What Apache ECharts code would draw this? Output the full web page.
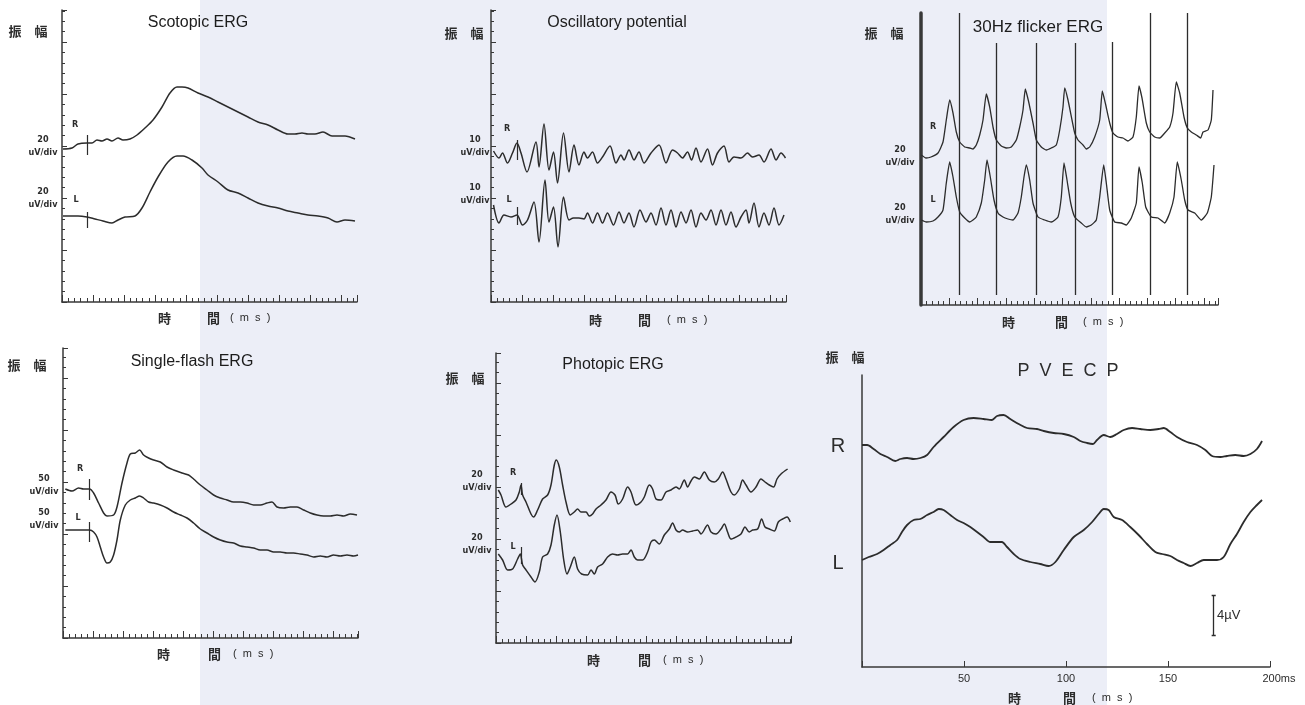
<!DOCTYPE html>
<html>
<head>
<meta charset="utf-8">
<title>ERG / PVECP</title>
<script src="https://cdn.jsdelivr.net/npm/echarts@6/dist/echarts.min.js"></script>
<style>
  html, body { margin: 0; padding: 0; background: #fff; }
  #chart {
    width: 1305px;
    height: 705px;
    background: linear-gradient(to right, #fff 0, #fff 200px, #eceef7 200px, #eceef7 1107px, #fff 1107px);
  }
</style>
</head>
<body>
<div id="chart"></div>
<script>
// ERG panels: x = time, y = amplitude, both in chart units (1 unit ~ 1 plotted px)
// PVECP: x in ms, y in uV

// Scotopic ERG
const scotopicR = [[1,153],[10,154],[16,158],[25,159],[30,159],[35,162],[40,161],[45,163],[50,161],[56,164],[61,162],[68,163],[75,167],[83,174],[91,182],[100,195],[108,209],[115,215],[120,215],[126,214],[136,209],[146,205],[156,200],[166,195],[176,190],[186,185],[196,180],[206,177],[216,172],[226,168],[233,168],[240,169],[246,168],[253,168],[261,170],[270,166],[276,166],[283,166],[293,163]];
const scotopicL = [[1,86],[16,86],[25,85],[33,83],[41,81],[50,79],[56,82],[63,85],[73,86],[80,94],[88,110],[96,125],[106,140],[115,146],[121,146],[130,142],[140,134],[146,127],[156,120],[166,112],[176,109],[186,104],[196,99],[206,96],[216,94],[226,91],[236,89],[246,87],[256,86],[266,84],[275,80],[283,82],[293,81]];
const scotopicStim = [[25,147,167],[25,74,90]];

// Oscillatory potential
const oscR = [[2.5,151],[8,144],[11.5,149],[16.5,139],[21.5,149],[26,159],[30,149],[36,130],[45,160],[48,135],[53,178],[58,132],[62.5,150],[66.5,119],[72.5,169],[78,130],[83,157],[88,137],[93,150],[96.5,144],[101.5,150],[106.5,139],[111.5,145],[119,156],[125,139],[130,147],[133,142],[138,152],[143,142],[148,150],[153,139],[160,149],[168,157],[175,139],[181.5,152],[186.5,149],[191.5,144],[196.5,150],[200.5,142],[205,154],[210,140],[216.5,153],[221.5,137],[226.5,149],[233,156],[238,140],[243,145],[250,144],[256.5,149],[261.5,145],[268,147],[273,140],[280,153],[285,142],[290,149],[294.5,144]];
const oscL = [[2.5,97],[8,79],[13,87],[20,85],[26,87],[31.5,77],[36.5,82],[43,100],[48,60],[54,122],[58,80],[62.5,95],[67,55],[72.5,105],[78,82],[82.5,84],[88,84],[93,83],[96.5,89],[101.5,79],[106.5,89],[111.5,79],[116.5,89],[122.5,77],[128,90],[133,79],[138,89],[143,75],[149,92],[155,80],[160,89],[165,77],[170,94],[175,77],[180,92],[185,75],[190,90],[195,79],[200,92],[205,75],[210,89],[215,82],[220,92],[225,77],[230,92],[235,77],[240,90],[245,75],[250,85],[255,92],[258,79],[263,99],[268,75],[273,89],[278,77],[283,94],[288,77],[293,87]];
const oscStim = [[26,142,162],[26,77,95]];

// 30Hz flicker ERG
const flickerR = [[0.3,150],[5,147],[10,148],[17,152],[22,163],[25.3,185],[28.7,205],[32,192],[35.3,173],[38.7,163],[43.7,158],[48.7,157],[52,156],[55.3,160],[58.7,170],[62,185],[65.3,211],[68.7,198],[72,178],[75.3,165],[80.3,159],[85.3,157],[90.3,158],[95.3,165],[98.7,178],[102,195],[104.3,216],[107.7,203],[112,182],[115.3,165],[120.3,158],[125.3,155],[130.3,157],[135.3,160],[138.7,175],[142,198],[143.7,217],[147,205],[151,185],[153.7,172],[157,165],[162,160],[165.3,156],[168.7,158],[173.7,168],[178.7,185],[181.3,214],[184.3,202],[188.7,182],[192,172],[197,168],[202,167],[207,164],[212,168],[215.3,188],[218,219],[221,207],[225.3,182],[228.7,173],[233.7,168],[238.7,167],[243.7,172],[248.7,178],[252,192],[255.3,223],[258.7,212],[263,188],[266.3,177],[270.3,173],[275.3,170],[279.7,167],[282,173],[287,175],[290.3,185],[292,215]];
const flickerL = [[0.3,85],[5.3,83],[12,84],[17,88],[22,95],[25.3,122],[28.7,143],[32,128],[35.3,108],[38.7,93],[43.7,87],[48.7,83],[52,85],[55.3,88],[60.3,102],[63.7,125],[66,145],[69.3,128],[73,105],[77,92],[82,88],[87,86],[92,85],[97,92],[100.3,108],[103,128],[105.3,140],[108.7,125],[112,102],[117,88],[123.7,85],[130.3,83],[137,88],[140.3,108],[143,142],[146,125],[149.7,102],[153.7,88],[160.3,82],[165.3,78],[170.3,80],[175.3,85],[178.7,108],[182.7,140],[185.3,122],[188.7,95],[193.7,83],[200.3,82],[205.3,80],[210.3,87],[215.3,102],[218,138],[221.3,122],[224.7,98],[230.3,88],[237,87],[243.7,82],[248.7,92],[253,108],[256.3,143],[260.3,125],[263.7,105],[267,95],[273.7,92],[280.3,85],[286.3,92],[290.3,108],[293,140]];
const flickerStim = [[38,10,292],[75.5,10,262],[115,10,262],[154,10,262],[191,10,263],[229,10,292],[266.5,10,292]];

// Single-flash ERG
const singleR = [[2.3,149],[9,147],[15.6,150],[20.6,149],[26.6,149],[30.6,145],[35.6,135],[40.6,125],[44,122],[50.6,123],[54,131],[59,155],[64,175],[67.3,184],[72.3,185],[76.6,188],[80.6,183],[85.6,180],[90.6,178],[97.3,176],[104,171],[110.6,168],[119,165],[125.6,163],[130.6,159],[137.3,153],[144,148],[150.6,143],[157.3,140],[164,138],[170.6,136],[177.3,136],[184,135],[190.6,133],[197.3,133],[204,135],[209,136],[214,131],[220.6,130],[227.3,131],[234,131],[240.6,128],[247.3,125],[254,123],[260.6,122],[267.3,122],[274,123],[280.6,122],[287.3,124],[294,123]];
const singleL = [[2.3,108],[26.6,108],[30.6,106],[34,101],[37.3,91],[40.6,81],[44,75],[47.3,76],[50.6,83],[54,98],[57.3,118],[62.3,133],[67.3,138],[72.3,140],[76.6,142],[80.6,140],[85.6,136],[90.6,135],[97.3,133],[104,130],[110.6,126],[117.3,123],[124,120],[130.6,115],[137.3,109],[144,105],[150.6,101],[157.3,98],[164,96],[170.6,95],[177.3,92],[184,91],[190.6,90],[197.3,88],[204,88],[210.6,86],[217.3,86],[224,85],[230.6,85],[237.3,84],[244,83],[250.6,81],[257.3,82],[264,81],[270.6,83],[277.3,82],[284,83],[290.6,82],[295,83]];
const singleStim = [[26.6,138,159],[26.6,96,116]];

// Photopic ERG
const photopicR = [[2.3,153],[5,148],[10,136],[15,139],[20,143],[23.3,151],[25,158],[26.6,148],[30,141],[35,129],[37.6,126],[41.6,133],[46.6,144],[51.6,148],[55,158],[58.3,178],[60.3,183],[63.3,176],[66.6,158],[70,141],[74.3,128],[78.3,131],[81.6,134],[85,131],[90,131],[93.3,127],[96.6,129],[100,134],[105,138],[110,143],[115,151],[119,148],[122.3,139],[126.6,144],[131.6,156],[135,151],[140,138],[145,141],[148.3,146],[153.3,158],[156.6,154],[160,144],[165,143],[170,151],[175,153],[180,156],[183.3,154],[188.3,163],[191.6,156],[195,162],[198.3,166],[203.3,164],[208.3,171],[213.3,163],[218.3,161],[222.3,164],[226.6,171],[230,164],[235,151],[238.3,148],[243.3,154],[246.6,163],[250,158],[255,151],[260,156],[265,164],[269,161],[273.3,158],[277.6,156],[281,164],[285,169],[291.6,174]];
const photopicL = [[2.3,89],[6.6,83],[11.6,73],[16.6,74],[21.6,84],[24.3,89],[26.6,78],[30,73],[35,66],[39,61],[43.3,71],[46.6,86],[51.6,89],[55,98],[58.3,118],[61,128],[64.3,111],[67.6,84],[71,69],[74.3,76],[78.3,86],[81.6,74],[85.6,69],[91.6,68],[95,73],[98.3,69],[101.6,76],[106.6,79],[111.6,86],[116.6,89],[121.6,88],[126.6,89],[131.6,89],[135,93],[138.3,86],[141.6,83],[146.6,83],[151.6,91],[155,101],[158.3,103],[163.3,99],[168.3,108],[173.3,114],[176.6,120],[180,113],[183.3,111],[186.6,113],[191.6,111],[196.6,112],[201.6,113],[205,109],[211.6,118],[215,111],[220,109],[225,114],[228.3,119],[231.6,111],[235,104],[240,106],[245,109],[249,116],[253.3,111],[256.6,113],[261.6,114],[265.6,124],[269,116],[273.3,114],[278.3,112],[282.3,121],[286.6,124],[291,126],[294.3,121]];
const photopicStim = [[25,148,160],[25,79,96]];

// PVECP (ms, uV)
const pvecpR = [[0,22.2],[2.5,22.2],[5.7,21.8],[9,21.3],[12.3,21.0],[16.3,20.6],[18.8,20.8],[22.1,20.9],[25.3,20.8],[28.6,20.9],[31.9,21.2],[35.1,22.0],[40,23.0],[44.9,24.0],[49.8,24.7],[54.7,24.9],[59.6,24.8],[63.7,24.7],[66.2,25.1],[69.4,25.2],[72.7,24.8],[76.8,24.3],[80.9,23.9],[85.8,23.8],[89.1,23.6],[94,23.4],[98.9,23.3],[103.8,23.0],[107,22.6],[110.3,22.4],[113.2,22.3],[115.2,22.7],[118.5,23.2],[121.7,23.0],[125,23.3],[128.3,23.7],[132.4,23.9],[136.4,23.8],[141.3,23.7],[145.4,23.8],[147.9,23.9],[151.1,23.5],[154.4,23.0],[159.3,22.5],[164.2,22.2],[168.3,21.7],[171.6,21.1],[175.7,21.0],[178.9,21.1],[183,21.2],[187.1,21.1],[190.4,21.3],[193.6,21.8],[196.1,22.6]];
const pvecpL = [[0,10.7],[3.3,11.0],[7.4,11.3],[10.6,11.7],[13.9,12.2],[17.2,12.7],[19.6,13.5],[22.1,14.2],[25.3,14.7],[28.6,14.8],[31.9,15.2],[35.1,15.5],[37.6,15.8],[40,15.7],[43.3,15.2],[46.6,14.7],[49.8,14.4],[53.1,14.0],[56.4,13.5],[59.6,13.0],[62.9,12.5],[66.2,12.5],[68.6,12.5],[71.1,12.0],[74.4,11.3],[77.6,10.8],[82.5,10.5],[87.4,10.3],[91.5,10.1],[94.8,10.5],[98.9,11.7],[103.8,13.0],[108.7,13.7],[112.8,14.5],[116,15.3],[118.5,15.8],[120.9,15.7],[123.4,15.0],[127.5,14.7],[131.5,14.0],[135.6,13.2],[139.7,12.3],[143.8,11.5],[147.1,11.3],[151.1,11.1],[154.4,10.7],[157.7,10.4],[161,10.1],[164.2,10.4],[167.5,10.7],[170.8,10.7],[174,10.7],[177.3,11.0],[180.6,12.3],[183.8,13.3],[187.1,14.5],[190.4,15.5],[193.6,16.2],[196.1,16.7]];
const pvecpTicks = [50, 100, 150, 200];
const pvecpScale = [172.4, 3.2, 7.2]; // 4 uV bar

const INK = '#2c2c2c';
const AXIS = '#383838';
const DOT = 'bold 9px "DejaVu Sans Condensed"';
const CJK = 'bold 13px "Noto Sans CJK SC"';
const TITLE = '16px "Liberation Sans"';

const chart = echarts.init(document.getElementById('chart'));

const grids = [
  { left: 62, top: 10, width: 295, height: 292 },
  { left: 491, top: 10, width: 295, height: 292 },
  { left: 921, top: 13, width: 297, height: 292 },
  { left: 63, top: 348, width: 295, height: 290 },
  { left: 496, top: 353, width: 295, height: 290 },
  { left: 862, top: 375, width: 408, height: 292 }
];
const xSteps = [31, 31, 28.3, 30, 30];

const xAxes = [];
const yAxes = [];
grids.slice(0, 5).forEach((g, i) => {
  xAxes.push({
    gridIndex: i, type: 'value', min: 0, max: g.width, interval: xSteps[i],
    axisLine: { lineStyle: { color: AXIS, width: 1.5 } },
    axisTick: { inside: true, length: 7, lineStyle: { color: AXIS } },
    minorTick: { show: true, splitNumber: 5, length: 4, lineStyle: { color: AXIS } },
    axisLabel: { show: false }, splitLine: { show: false }
  });
  yAxes.push({
    gridIndex: i, type: 'value', min: 0, max: g.height, interval: 52,
    axisLine: { show: true, lineStyle: { color: AXIS, width: i === 2 ? 3.5 : 1.5 } },
    axisTick: { show: i !== 2, inside: true, length: 5, lineStyle: { color: AXIS } },
    minorTick: { show: i !== 2, splitNumber: 5, length: 3, lineStyle: { color: AXIS } },
    axisLabel: { show: false }, splitLine: { show: false }
  });
});
xAxes.push({
  gridIndex: 5, type: 'value', min: 0, max: 200, interval: 50,
  axisLine: { lineStyle: { color: AXIS, width: 1.5 } },
  axisTick: { inside: true, length: 6, lineStyle: { color: AXIS } },
  axisLabel: {
    color: INK, fontSize: 11, fontFamily: 'Liberation Sans', margin: 6,
    formatter: v => (v === 200 ? '{u|200ms}' : pvecpTicks.includes(v) ? String(v) : ''),
    rich: { u: { fontSize: 11, fontFamily: 'Liberation Sans', color: INK, padding: [0, 0, 0, 18] } }
  },
  splitLine: { show: false }
});
yAxes.push({
  gridIndex: 5, type: 'value', min: 0, max: 29.2,
  axisLine: { show: true, lineStyle: { color: AXIS, width: 1.5 } },
  axisTick: { show: false }, axisLabel: { show: false }, splitLine: { show: false }
});

function trace(data, idx, width, smooth) {
  return {
    type: 'line', data, xAxisIndex: idx, yAxisIndex: idx, showSymbol: false,
    smooth: smooth == null ? 0.3 : smooth,
    lineStyle: { color: INK, width: width || 1.5 }, silent: true
  };
}
function marks(segments, idx, width) {
  return {
    type: 'lines', coordinateSystem: 'cartesian2d', xAxisIndex: idx, yAxisIndex: idx,
    data: segments.map(c => ({ coords: c })),
    lineStyle: { color: INK, width: width || 1.2, opacity: 1 }, silent: true
  };
}
const stimSegs = list => list.map(s => [[s[0], s[1]], [s[0], s[2]]]);

const series = [
  trace(scotopicR, 0), trace(scotopicL, 0), marks(stimSegs(scotopicStim), 0),
  trace(oscR, 1), trace(oscL, 1), marks(stimSegs(oscStim), 1),
  trace(flickerR, 2, 1.3, 0.15), trace(flickerL, 2, 1.3, 0.15), marks(stimSegs(flickerStim), 2, 1.3),
  trace(singleR, 3), trace(singleL, 3), marks(stimSegs(singleStim), 3),
  trace(photopicR, 4), trace(photopicL, 4), marks(stimSegs(photopicStim), 4),
  trace(pvecpR, 5, 1.8), trace(pvecpL, 5, 1.8),
  marks([
    [[pvecpScale[0], pvecpScale[1]], [pvecpScale[0], pvecpScale[2]]],
    [[pvecpScale[0] - 1, pvecpScale[1]], [pvecpScale[0] + 1, pvecpScale[1]]],
    [[pvecpScale[0] - 1, pvecpScale[2]], [pvecpScale[0] + 1, pvecpScale[2]]]
  ], 5, 1.3)
];

function txt(x, y, text, font, align, fill) {
  const a = align || 'center';
  return {
    type: 'text', x, y, silent: true, z: 10,
    style: { text, font, fill: fill || INK, align: a, textAlign: a, verticalAlign: 'middle', textVerticalAlign: 'middle' }
  };
}
function timeLabel(x1, x2, x3, y) {
  return [
    txt(x1, y, '時', CJK, 'left'),
    txt(x2, y, '間', CJK, 'left'),
    txt(x3, y, '(  m  s  )', '11px "Liberation Sans"', 'left')
  ];
}
function scale(x, y1, y2, v) {
  return [txt(x, y1, v, DOT), txt(x, y1 + 13, 'uV/div', DOT), txt(x, y2, v, DOT), txt(x, y2 + 13, 'uV/div', DOT)];
}
const TFILL = '#1c1c1c';

const graphic = [
  // Scotopic
  txt(198, 23, 'Scotopic ERG', TITLE, 'center', TFILL), txt(28, 31, '振　幅', CJK),
  ...scale(43, 140, 192, '20'), txt(75, 125, 'R', DOT), txt(76, 200, 'L', DOT),
  ...timeLabel(158, 207, 230, 318),
  // Oscillatory potential
  txt(617, 23, 'Oscillatory potential', TITLE, 'center', TFILL), txt(464, 33, '振　幅', CJK),
  ...scale(475, 140, 188, '10'), txt(507, 129, 'R', DOT), txt(509, 200, 'L', DOT),
  ...timeLabel(589, 638, 667, 320),
  // 30Hz flicker
  txt(1038, 27, '30Hz flicker ERG', '17px "Liberation Sans"', 'center', TFILL), txt(884, 33, '振　幅', CJK),
  ...scale(900, 150, 208, '20'), txt(933, 127, 'R', DOT), txt(933, 200, 'L', DOT),
  ...timeLabel(1002, 1055, 1083, 322),
  // Single-flash
  txt(192, 362, 'Single-flash ERG', TITLE, 'center', TFILL), txt(27, 365, '振　幅', CJK),
  ...scale(44, 479, 513, '50'), txt(80, 469, 'R', DOT), txt(78, 518, 'L', DOT),
  ...timeLabel(157, 208, 233, 654),
  // Photopic
  txt(613, 365, 'Photopic ERG', TITLE, 'center', TFILL), txt(465, 378, '振　幅', CJK),
  ...scale(477, 475, 538, '20'), txt(513, 473, 'R', DOT), txt(513, 547, 'L', DOT),
  ...timeLabel(587, 638, 663, 660),
  // PVECP
  txt(1068, 371, 'P  V  E  C  P', '18px "Liberation Sans"'), txt(845, 357, '振　幅', CJK),
  txt(838, 446, 'R', '20px "Liberation Sans"'), txt(838, 563, 'L', '20px "Liberation Sans"'),
  txt(1217, 615, '4µV', '13px "Liberation Sans"', 'left'),
  ...timeLabel(1008, 1063, 1092, 698)
];

chart.setOption({
  animation: false,
  backgroundColor: 'transparent',
  grid: grids,
  xAxis: xAxes,
  yAxis: yAxes,
  series,
  graphic
});
window.addEventListener('resize', () => chart.resize());
</script>
</body>
</html>
